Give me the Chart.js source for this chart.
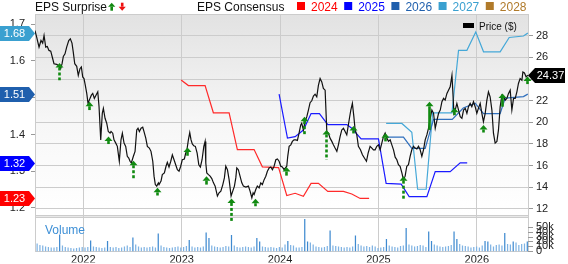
<!DOCTYPE html>
<html><head><meta charset="utf-8">
<script src="https://cdn.jsdelivr.net/npm/chart.js@4/dist/chart.umd.min.js"></script>
<style>html,body{margin:0;padding:0;background:#fff;}canvas{display:block;}</style>
</head><body>
<canvas id="c" width="568" height="264" style="width:568px;height:264px"></canvas>
<script>
// ---------------- DATA ----------------
const yearTicks = [2022, 2023, 2024, 2025, 2026];
const priceTicks = [12, 14, 16, 18, 20, 22, 24, 26, 28];
const epsTicks = [1.2, 1.3, 1.4, 1.5, 1.6, 1.7];
const volTicks = [0, 10, 20, 30, 40, 50];

const priceDates = [
2021.509,2021.526,2021.550,2021.570,2021.587,2021.601,2021.618,2021.634,2021.651,2021.669,
2021.689,2021.702,2021.730,2021.746,2021.770,2021.784,2021.797,2021.814,2021.831,2021.852,
2021.868,2021.885,2021.898,2021.913,2021.933,2021.949,2021.966,2021.980,2021.994,2022.007,
2022.020,2022.035,2022.048,2022.068,2022.082,2022.096,2022.112,2022.129,2022.147,2022.160,
2022.177,2022.193,2022.204,2022.221,2022.238,2022.254,2022.272,2022.282,2022.299,2022.312,
2022.330,2022.346,2022.366,2022.383,2022.397,2022.414,2022.431,2022.447,2022.462,2022.475,
2022.488,2022.509,2022.526,2022.543,2022.556,2022.570,2022.587,2022.604,2022.617,2022.635,
2022.651,2022.671,2022.688,2022.706,2022.719,2022.732,2022.746,2022.763,
2022.770,2022.790,2022.803,2022.824,2022.841,2022.854,2022.871,2022.889,2022.905,2022.922,
2022.939,2022.956,2022.973,2022.990,2023.006,2023.027,2023.041,2023.051,2023.068,2023.082,
2023.095,2023.108,2023.123,2023.139,2023.157,2023.174,2023.190,2023.207,2023.225,2023.238,
2023.245,2023.255,2023.272,2023.289,2023.306,2023.323,2023.340,2023.363,2023.380,2023.398,
2023.418,2023.434,2023.448,2023.465,2023.482,2023.492,2023.502,2023.519,2023.536,2023.550,
2023.560,2023.576,2023.593,2023.611,2023.627,2023.652,2023.678,2023.695,2023.713,2023.726,
2023.736,2023.753,2023.769,2023.787,2023.804,2023.820,2023.838,2023.855,2023.871,2023.889,
2023.906,2023.922,2023.939,2023.957,2023.973,
2023.990,2024.007,2024.023,2024.041,2024.068,2024.078,2024.092,2024.109,2024.125,2024.142,
2024.160,2024.176,2024.193,2024.210,2024.220,2024.237,2024.254,2024.272,2024.288,2024.305,
2024.322,2024.339,2024.356,2024.373,2024.390,2024.407,2024.424,2024.440,2024.458,2024.475,
2024.491,2024.508,2024.526,2024.542,2024.559,2024.577,2024.593,2024.610,2024.627,2024.644,
2024.661,2024.678,2024.689,2024.705,2024.719,2024.735,2024.750,2024.763,2024.780,2024.796,
2024.817,2024.837,2024.857,2024.878,2024.895,2024.915,2024.933,2024.949,2024.966,2024.983,
2025.000,2025.017,2025.034,2025.051,2025.068,2025.085,2025.102,2025.119,2025.136,2025.153,
2025.170,
2025.187,2025.203,2025.220,2025.238,2025.254,2025.271,2025.288,2025.305,2025.322,2025.339,
2025.356,2025.373,2025.390,2025.407,2025.424,2025.441,2025.458,2025.475,2025.492,2025.509,
2025.526,2025.543,2025.560,2025.577,2025.595,2025.611,2025.628,2025.645,2025.662,2025.678,
2025.696,2025.712,2025.729,2025.747,2025.757,2025.767,2025.780,2025.797,2025.814,2025.831,
2025.848,2025.865,2025.882,2025.899,2025.915,2025.932,2025.949,2025.966,2025.983,2026.000,
2026.016,2026.034,2026.051,2026.067,2026.085,2026.102,2026.118,2026.135,2026.153,2026.169,
2026.186,2026.204,2026.220,2026.237,2026.255,2026.271,2026.288,2026.305,2026.322,2026.339,
2026.356,2026.373,2026.390,2026.407,2026.423,2026.440,2026.458,2026.468,2026.484,2026.501,
2026.518];

const priceValues = [
28.49,27.88,26.96,27.57,27.33,28.03,26.96,27.02,26.65,26.59,
25.88,25.42,25.36,25.27,24.96,25.42,26.10,26.34,26.96,27.57,
27.72,27.33,26.50,25.42,25.18,24.35,24.96,25.12,24.20,24.05,
23.43,22.67,21.75,22.21,22.51,22.67,22.21,22.51,22.82,21.44,
18.37,20.83,21.29,20.37,19.91,19.14,18.99,19.14,18.99,18.37,
18.07,17.77,16.39,18.37,18.99,18.07,17.77,16.85,16.69,16.39,
16.23,16.85,17.31,19.29,19.45,19.14,19.45,19.54,19.14,18.53,
17.77,17.61,17.31,16.39,15.01,14.23,14.09,14.39,
14.23,14.55,15.15,15.31,15.93,16.29,15.86,16.39,16.99,16.53,
16.07,15.61,15.47,15.93,16.53,16.60,17.15,17.31,18.37,19.05,
18.37,18.00,17.82,17.77,17.15,16.07,15.86,16.53,17.77,18.23,
16.23,15.31,15.15,15.01,14.79,14.39,14.09,13.17,13.47,13.63,
14.23,14.85,15.93,15.61,14.69,13.93,13.17,13.63,14.09,14.85,
15.77,15.61,15.01,14.39,14.09,14.00,14.09,13.63,13.01,13.47,
13.31,13.77,14.09,13.93,14.39,14.23,14.69,15.01,15.47,15.77,
15.86,15.61,15.93,16.53,16.60,
16.39,15.93,15.86,15.61,15.93,16.85,17.77,17.91,18.23,18.37,
18.37,18.32,18.99,19.75,19.91,19.29,20.06,20.52,21.13,21.81,
21.99,22.42,22.60,22.36,23.43,24.05,23.74,23.13,22.97,19.14,
18.99,18.53,18.23,17.91,17.61,17.31,17.91,18.68,19.29,19.45,
19.14,18.83,19.45,20.37,21.13,21.75,20.52,19.29,18.83,17.77,
17.45,16.99,16.69,16.39,17.15,17.77,17.61,17.45,17.45,17.77,
17.91,17.45,18.07,18.68,18.99,18.53,18.23,18.37,17.91,17.45,
16.77,
16.53,16.07,15.93,15.31,14.69,15.01,15.93,16.07,16.85,17.45,
17.77,17.61,17.52,17.77,17.45,16.85,17.45,18.37,18.83,19.45,
20.37,21.13,20.83,19.45,20.21,20.83,21.13,21.90,22.21,22.05,
22.67,22.97,23.28,24.35,22.67,20.83,21.13,21.75,21.13,20.52,
20.37,21.13,21.29,20.83,21.44,21.75,21.44,21.90,21.44,20.83,
21.29,21.75,20.83,20.06,20.83,22.05,22.82,22.36,21.13,18.99,
18.07,18.23,19.29,21.44,22.51,22.36,22.05,22.21,22.67,22.97,
21.13,22.21,22.21,22.82,23.59,24.05,23.89,24.66,24.57,24.20,
24.37];

// EPS consensus by fiscal year
const eps2024Dates = [2022.994,2023.068,2023.238,2023.322,2023.482,2023.566,2023.736,2023.820,2023.985,2024.068,2024.153,2024.237,2024.315,2024.390,2024.485,2024.644,2024.729,2024.814,2024.905];
const eps2024 = [1.548,1.533,1.533,1.459,1.459,1.359,1.359,1.312,1.310,1.234,1.240,1.232,1.267,1.267,1.245,1.245,1.238,1.226,1.226];
const eps2025Dates = [2023.990,2024.075,2024.153,2024.237,2024.315,2024.400,2024.485,2024.678,2024.729,2024.824,2025.000,2025.078,2025.231,2025.312,2025.492,2025.577,2025.729,2025.831,2025.902];
const eps2025 = [1.510,1.390,1.394,1.412,1.457,1.457,1.427,1.427,1.417,1.388,1.388,1.267,1.265,1.231,1.231,1.299,1.299,1.323,1.323];
const eps2026Dates = [2025.078,2025.254,2025.339,2025.475,2025.560,2025.750,2025.862,2025.983,2026.068,2026.237,2026.288,2026.474,2026.518];
const eps2026 = [1.393,1.393,1.362,1.362,1.441,1.441,1.472,1.485,1.457,1.457,1.499,1.503,1.510];
const eps2027Dates = [2025.078,2025.238,2025.339,2025.398,2025.485,2025.551,2025.747,2025.814,2025.899,2025.989,2026.068,2026.237,2026.329,2026.474,2026.518];
const eps2027 = [1.430,1.430,1.406,1.251,1.251,1.459,1.459,1.629,1.629,1.679,1.625,1.625,1.664,1.668,1.676];
const eps2028Dates = [];
const eps2028 = [];

// EPS surprise markers (price level of arrow tip and of stem end)
const surpriseDates = [2021.756,2022.058,2022.254,2022.502,2022.750,2023.051,2023.248,2023.502,2023.746,2024.058,2024.241,2024.468,2024.745,2025.068,2025.254,2025.509,2025.763,2026.067,2026.255,2026.505];
const surpriseTop = [25.49,21.90,18.68,16.44,13.93,17.67,15.01,12.95,12.92,15.86,20.52,19.29,19.66,18.99,15.01,21.90,21.35,19.75,22.67,24.23];
const surpriseBottom = [23.89,21.13,18.00,14.79,13.22,16.90,14.23,10.87,12.25,15.06,18.83,16.53,18.99,18.23,12.80,19.29,20.67,19.05,21.44,23.65];

// Volume (thousands), evenly spaced periods
const volume = [
16,13,12,10,9,8,8,9,34,12,
9,8,7,6,7,8,9,8,9,22,
10,9,8,7,8,21,9,8,9,7,
8,10,12,9,28,14,10,8,9,8,
9,10,8,36,12,9,8,7,8,9,
10,8,9,11,23,10,8,9,8,10,
38,27,12,10,9,8,9,11,10,33,
12,9,8,9,10,9,8,10,27,20,
10,9,8,9,8,7,9,8,14,21,
13,12,8,8,9,65,20,18,14,10,
9,8,9,11,42,12,11,10,9,8,
9,8,10,32,15,12,10,11,9,12,
10,7,8,9,25,12,10,9,8,11,
12,47,14,12,10,11,13,12,9,40,
21,14,12,10,9,10,11,13,40,25,
15,12,11,10,8,9,10,8,12,21,
20,14,10,13,14,12,37,15,14,20,
18,13,15,16,20];
const volumePeriods = volume.map((_, i) => i + 1);

// ---------------- LAYOUT / STYLE ----------------
const X_MIN = 2021.509, X_MAX = 2026.52;
const EPS_MIN = 1.0819, EPS_MAX = 1.7278;
const PRICE_MIN = 8.046, PRICE_MAX = 30.023, PRICE_PANEL_FLOOR = 11.448;
const VOL_MAX = 478;
const FONT = "'Liberation Sans', Arial, Helvetica, sans-serif";
const SOLID_STEMS = new Set([15, 18]);

const epsSeries = [
  {name: '2024', dates: eps2024Dates, values: eps2024, color: '#ff0000', line: '#ff2a2a'},
  {name: '2025', dates: eps2025Dates, values: eps2025, color: '#0000ff', line: '#1a1aff'},
  {name: '2026', dates: eps2026Dates, values: eps2026, color: '#1f5fad', line: '#2f6fbd'},
  {name: '2027', dates: eps2027Dates, values: eps2027, color: '#3aa0d0', line: '#45a8d8'},
  {name: '2028', dates: eps2028Dates, values: eps2028, color: '#b07a2a', line: '#b07a2a'}
];

Chart.defaults.font.family = FONT;
Chart.defaults.color = '#222';

function pentagon(ctx, pts) {
  ctx.beginPath(); ctx.moveTo(pts[0][0], pts[0][1]);
  for (let i = 1; i < pts.length; i++) ctx.lineTo(pts[i][0], pts[i][1]);
  ctx.closePath(); ctx.fill();
}

function upArrow(ctx, x, yt, yb, solid, color) {
  ctx.fillStyle = color;
  const hh = 4.5, hw = 4;
  ctx.beginPath(); ctx.moveTo(x, yt); ctx.lineTo(x + hw, yt + hh); ctx.lineTo(x - hw, yt + hh); ctx.closePath(); ctx.fill();
  const s = yt + hh, len = yb - s;
  if (solid || len < 7) { ctx.fillRect(x - 1.3, s, 2.6, Math.max(len, 3)); }
  else {
    for (let y = s; y < yb; y += 5) ctx.fillRect(x - 1.3, y, 2.6, Math.min(3, yb - y));
  }
}

const panelPlugin = {
  id: 'panels',
  beforeDraw(chart) {
    const {ctx, chartArea: a, width, height} = chart;
    const pb = Math.round(chart.scales.price.getPixelForValue(PRICE_PANEL_FLOOR));
    ctx.save();
    ctx.fillStyle = '#ffffff'; ctx.fillRect(0, 0, width, height);
    const g = ctx.createLinearGradient(0, a.top, 0, pb);
    g.addColorStop(0, '#e2e2e2'); g.addColorStop(0.55, '#f7f7f7'); g.addColorStop(1, '#ffffff');
    ctx.fillStyle = g; ctx.fillRect(a.left, a.top, a.right - a.left, pb - a.top);
    ctx.fillStyle = '#e8e8e8'; ctx.fillRect(a.left, pb, a.right - a.left, 3);
    ctx.strokeStyle = '#cccccc'; ctx.lineWidth = 1;
    ctx.beginPath();
    ctx.moveTo(a.left, a.top + 0.5); ctx.lineTo(a.right, a.top + 0.5);
    ctx.moveTo(a.left, pb + 0.5); ctx.lineTo(a.right, pb + 0.5);
    ctx.moveTo(a.left, pb + 2.5); ctx.lineTo(a.right, pb + 2.5);
    ctx.stroke();
    ctx.restore();
  }
};

const markerPlugin = {
  id: 'markers',
  afterDatasetsDraw(chart) {
    const ctx = chart.ctx, xs = chart.scales.x, ps = chart.scales.price;
    ctx.save();
    surpriseDates.forEach((d, i) => {
      const x = Math.round(xs.getPixelForValue(d)) + 0.5;
      upArrow(ctx, x, ps.getPixelForValue(surpriseTop[i]), ps.getPixelForValue(surpriseBottom[i]), SOLID_STEMS.has(i), '#118a11');
    });
    ctx.restore();
  }
};

const labelPlugin = {
  id: 'labels',
  afterDraw(chart) {
    const {ctx, chartArea: a} = chart;
    const es = chart.scales.eps, ps = chart.scales.price, vs = chart.scales.vol;
    ctx.save();
    // volume axis ticks and labels (scale itself is hidden)
    ctx.strokeStyle = '#999999'; ctx.lineWidth = 1;
    ctx.font = '11px ' + FONT; ctx.fillStyle = '#222222';
    ctx.textAlign = 'left'; ctx.textBaseline = 'middle';
    volTicks.forEach(v => {
      const y = Math.round(vs.getPixelForValue(v)) + 0.5;
      ctx.beginPath(); ctx.moveTo(a.right, y); ctx.lineTo(a.right + 5, y); ctx.stroke();
    });
    volTicks.slice().reverse().forEach(v => {
      const y = vs.getPixelForValue(v);
      ctx.fillText(v === 0 ? '0' : v + 'k', a.right + 8, y);
    });

    // left EPS badges (latest consensus per year)
    ctx.font = '11px ' + FONT; ctx.textAlign = 'center'; ctx.textBaseline = 'middle';
    epsSeries.forEach(s => {
      if (!s.values.length) return;
      const v = s.values[s.values.length - 1];
      const y = Math.round(es.getPixelForValue(v)) + 0.5;
      ctx.fillStyle = s.color;
      pentagon(ctx, [[0, y - 7.5], [a.left - 6, y - 7.5], [a.left, y], [a.left - 6, y + 7.5], [0, y + 7.5]]);
      ctx.fillStyle = '#ffffff';
      ctx.fillText(v.toFixed(2), 14.5, y + 0.5);
    });
    // right price badge
    const last = priceValues[priceValues.length - 1];
    const py = Math.round(ps.getPixelForValue(last)) + 0.5;
    ctx.fillStyle = '#000000';
    pentagon(ctx, [[a.right, py], [a.right + 7, py - 7.5], [565, py - 7.5], [565, py + 7.5], [a.right + 7, py + 7.5]]);
    ctx.fillStyle = '#ffffff';
    ctx.fillText(last.toFixed(2), 550.5, py + 0.5);

    // titles
    ctx.textAlign = 'left'; ctx.textBaseline = 'alphabetic';
    ctx.font = '12px ' + FONT; ctx.fillStyle = '#111111';
    ctx.fillText('EPS Surprise', 35, 10.5);
    ctx.fillStyle = '#118a11';
    ctx.beginPath(); ctx.moveTo(111.7, 2.7); ctx.lineTo(115.3, 6.7); ctx.lineTo(108.1, 6.7); ctx.closePath(); ctx.fill();
    ctx.fillRect(110.4, 6.7, 2.6, 4);
    ctx.fillStyle = '#ee1111';
    ctx.fillRect(120.9, 2.7, 2.6, 4);
    ctx.beginPath(); ctx.moveTo(118.6, 6.7); ctx.lineTo(125.8, 6.7); ctx.lineTo(122.2, 10.7); ctx.closePath(); ctx.fill();

    ctx.fillStyle = '#111111';
    ctx.fillText('EPS Consensus', 197, 10.5);
    let lx = 297;
    epsSeries.forEach(s => {
      ctx.fillStyle = s.color;
      ctx.fillRect(lx, 2, 8, 8);
      ctx.fillText(s.name, lx + 14, 10.5);
      lx += 14 + ctx.measureText(s.name).width + 6.5;
    });

    // price legend inside plot
    ctx.fillStyle = '#000000';
    ctx.fillRect(463, 23, 11, 5);
    ctx.font = '10px ' + FONT; ctx.fillStyle = '#111111';
    ctx.fillText('Price ($)', 479, 30);

    // volume label
    ctx.font = '12px ' + FONT; ctx.fillStyle = '#3d8fd6';
    ctx.fillText('Volume', 45, 233.5);
    ctx.restore();
  }
};

const datasets = [
  {
    label: 'Price ($)', type: 'line', xAxisID: 'x', yAxisID: 'price',
    data: priceDates.map((d, i) => ({x: d, y: priceValues[i]})),
    borderColor: '#111111', borderWidth: 1.2, pointRadius: 0, tension: 0, order: 0
  },
  ...epsSeries.map(s => ({
    label: s.name, type: 'line', xAxisID: 'x', yAxisID: 'eps',
    data: s.dates.map((d, i) => ({x: d, y: s.values[i]})),
    borderColor: s.line, borderWidth: 1.2, pointRadius: 0, tension: 0, order: 1
  })),
  {
    label: 'Volume', type: 'bar', xAxisID: 'xv', yAxisID: 'vol',
    data: volume,
    backgroundColor: volume.map(v => v >= 20 ? '#3f8ad0' : '#7fb3e3'),
    barPercentage: 0.88, categoryPercentage: 1, order: 5
  }
];

new Chart(document.getElementById('c'), {
  type: 'line',
  data: {labels: volumePeriods, datasets},
  plugins: [panelPlugin, markerPlugin, labelPlugin],
  options: {
    responsive: false, animation: false, devicePixelRatio: 1,
    layout: {padding: {top: 14, left: 0, right: 0, bottom: 0}},
    plugins: {legend: {display: false}, tooltip: {enabled: false}},
    scales: {
      x: {
        type: 'linear', position: 'bottom', min: X_MIN, max: X_MAX,
        afterBuildTicks: s => { s.ticks = yearTicks.map(v => ({value: v})); },
        afterFit: s => { s.height = 11; },
        grid: {color: '#cccccc', drawTicks: false, lineWidth: 1},
        border: {display: true, color: '#cccccc'},
        ticks: {padding: 2, font: {size: 11}, color: '#222', autoSkip: false, maxRotation: 0, callback: v => String(v)}
      },
      xv: {
        type: 'category', display: false, offset: true, grid: {display: false}
      },
      eps: {
        type: 'linear', position: 'left', min: EPS_MIN, max: EPS_MAX,
        afterBuildTicks: s => { s.ticks = epsTicks.map(v => ({value: v})); },
        afterFit: s => { s.width = 35; },
        grid: {drawOnChartArea: false, drawTicks: true, tickLength: 4, color: '#999999'},
        border: {display: true, color: '#cccccc'},
        ticks: {padding: 6, font: {size: 11}, color: '#222', autoSkip: false, callback: v => Number(v).toFixed(1)}
      },
      price: {
        type: 'linear', position: 'right', weight: 1, min: PRICE_MIN, max: PRICE_MAX,
        afterBuildTicks: s => { s.ticks = priceTicks.map(v => ({value: v})); },
        afterFit: s => { s.width = 40; },
        grid: {color: '#cccccc', drawTicks: true, tickLength: 5, tickColor: '#999999'},
        border: {display: true, color: '#cccccc'},
        ticks: {padding: 3, font: {size: 11}, color: '#222', autoSkip: false, callback: v => String(v)}
      },
      vol: {
        type: 'linear', position: 'right', display: false, min: 0, max: VOL_MAX
      }
    }
  }
});
</script>
</body></html>
